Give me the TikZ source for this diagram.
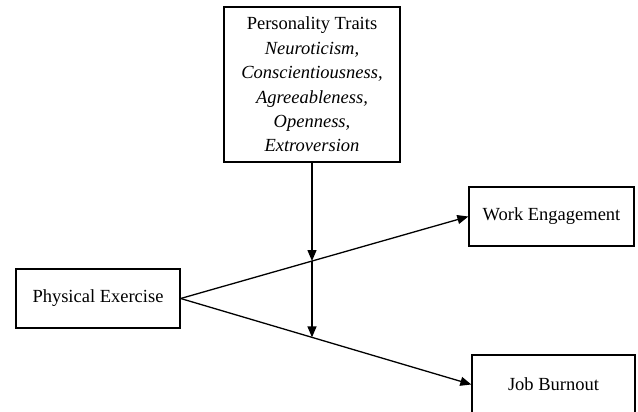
\documentclass[tikz,border=0pt]{standalone}
\usepackage{fontspec}
\setmainfont{Liberation Serif}
\usetikzlibrary{arrows.meta, intersections}

\begin{document}
\begin{tikzpicture}[x=1pt, y=1pt,
    box/.style={draw, line width=1.3pt, align=center, inner sep=0pt,
                font=\fontsize{18.5}{24.4}\selectfont},
    arr/.style={line width=1.3pt, -{Triangle[length=11pt, width=9pt]}}]
  \useasboundingbox (0,0) rectangle (638,412);
  \fill[white] (0,0) rectangle (638,412);
  % boxes
  \node[box, minimum width=176pt, minimum height=155pt] (traits) at (312, 327.5)
      {Personality Traits\\ \textit{Neuroticism,}\\ \textit{Conscientiousness,}\\
       \textit{Agreeableness,}\\ \textit{Openness,}\\ \textit{Extroversion}};
  \node[box, minimum width=164pt, minimum height=59pt] (exercise) at (98, 113.5)
      {Physical Exercise};
  \node[box, minimum width=165pt, minimum height=59pt] (engage) at (551.5, 195.5)
      {Work Engagement};
  \node[box, minimum width=163pt, minimum height=59pt] (burnout) at (553.5, 27.5)
      {Job Burnout};
  % paths
  \draw[arr, name path=up] (exercise.east) -- (engage.west);
  \draw[arr, name path=down] (exercise.east) -- (burnout.west);
  \path[name path=mod] (traits.south) -- ++(0,-200);
  \path[name intersections={of=mod and up, by=m1}];
  \path[name intersections={of=mod and down, by=m2}];
  \draw[arr] (traits.south) -- (m1);
  \draw[arr] (m1) -- (m2);
\end{tikzpicture}
\end{document}
